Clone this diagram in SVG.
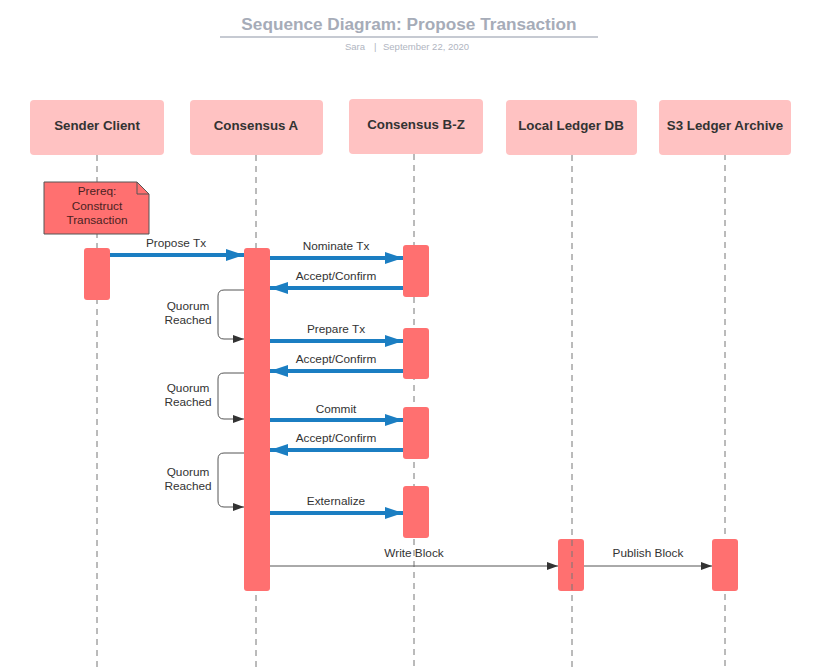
<svg xmlns="http://www.w3.org/2000/svg" width="817" height="670" viewBox="0 0 817 670">
<style>
text{font-family:"Liberation Sans",Arial,sans-serif}
.hdr{fill:#ffc2c2}
.hdrt{font-size:13.3px;font-weight:bold;fill:#333;text-anchor:middle}
.life{stroke:#777;stroke-width:1;stroke-dasharray:6,5;fill:none}
.bar{fill:#ff7070}
.blue{stroke:#1b7ec2;stroke-width:4;fill:none}
.lbl{font-size:11.8px;fill:#333;text-anchor:middle}
.sub{font-size:9.5px;fill:#b0b5bf}
.loop{stroke:#555;stroke-width:1;fill:none}
.thin{stroke:#555;stroke-width:1;fill:none}
</style>
<defs>
<marker id="bh" markerWidth="18" markerHeight="12" refX="18" refY="6" orient="auto" markerUnits="userSpaceOnUse">
<path d="M0,0 L18,6 L0,12 Z" fill="#1b7ec2"/>
</marker>
<marker id="kh" markerWidth="11" markerHeight="8" refX="11" refY="4" orient="auto" markerUnits="userSpaceOnUse">
<path d="M0,0 L11,4 L0,8 Z" fill="#333"/>
</marker>
</defs>
<rect width="817" height="670" fill="#fff"/>
<g id="title">
<text x="409" y="30" style="font-size:17.2px;font-weight:bold;fill:#a6acb8;text-anchor:middle">Sequence Diagram: Propose Transaction</text>
<line x1="220" y1="37" x2="598" y2="37" stroke="#c6cad2" stroke-width="2"/>
<text class="sub" x="345" y="50">Sara</text>
<text class="sub" x="374" y="50">|</text>
<text class="sub" x="383" y="50">September 22, 2020</text>
</g>
<g id="lifelines">
<line class="life" x1="97" y1="155" x2="97" y2="670"/>
<line class="life" x1="256" y1="155" x2="256" y2="670"/>
<line class="life" x1="414" y1="154" x2="414" y2="670"/>
<line class="life" x1="725" y1="154" x2="725" y2="670"/>
</g>
<g id="sender"><rect class="hdr" x="30" y="100" width="134" height="55" rx="4"/><text class="hdrt" x="97" y="130">Sender Client</text></g>
<g id="consA"><rect class="hdr" x="190" y="100" width="133" height="55" rx="4"/><text class="hdrt" x="256" y="130">Consensus A</text></g>
<g id="consBZ"><rect class="hdr" x="349" y="99" width="134" height="55" rx="4"/><text class="hdrt" x="416" y="129">Consensus B-Z</text></g>
<g id="ledger"><rect class="hdr" x="506" y="100" width="131" height="55" rx="4"/><text class="hdrt" x="571" y="130">Local Ledger DB</text></g>
<g id="s3"><rect class="hdr" x="659" y="100" width="132" height="55" rx="4"/><text class="hdrt" x="725" y="130">S3 Ledger Archive</text></g>
<g id="prereq">
<path d="M44,182 H137 L149,194 V234 H44 Z" fill="#ff7070" stroke="#555" stroke-width="1"/>
<path d="M137,182 V194 H149" fill="none" stroke="#555" stroke-width="1"/>
<text class="lbl" x="97" y="195" style="fill:#4a2222">Prereq:</text>
<text class="lbl" x="97" y="210" style="fill:#4a2222">Construct</text>
<text class="lbl" x="97" y="224" style="fill:#4a2222">Transaction</text>
</g>
<g id="activations">
<rect class="bar" x="84" y="248" width="26" height="52" rx="3"/>
<rect class="bar" x="244" y="248" width="26" height="343" rx="3"/>
<rect class="bar" x="403" y="245" width="26" height="52" rx="3"/>
<rect class="bar" x="403" y="328" width="26" height="51" rx="3"/>
<rect class="bar" x="403" y="407" width="26" height="52" rx="3"/>
<rect class="bar" x="403" y="486" width="26" height="52" rx="3"/>
<rect class="bar" x="558" y="539" width="26" height="52" rx="3"/>
<rect class="bar" x="712" y="539" width="26" height="52" rx="3"/>
<line class="life" x1="572" y1="155" x2="572" y2="670"/>
</g>
<g id="connectors">
<line class="blue" x1="110" y1="255" x2="244" y2="255" marker-end="url(#bh)"/>
<line class="blue" x1="270" y1="258" x2="403" y2="258" marker-end="url(#bh)"/>
<line class="blue" x1="403" y1="288" x2="270" y2="288" marker-end="url(#bh)"/>
<line class="blue" x1="270" y1="341" x2="403" y2="341" marker-end="url(#bh)"/>
<line class="blue" x1="403" y1="371" x2="270" y2="371" marker-end="url(#bh)"/>
<line class="blue" x1="270" y1="420" x2="403" y2="420" marker-end="url(#bh)"/>
<line class="blue" x1="403" y1="450" x2="270" y2="450" marker-end="url(#bh)"/>
<line class="blue" x1="270" y1="513" x2="403" y2="513" marker-end="url(#bh)"/>
<path class="loop" d="M244,290 H224 Q218,290 218,296 V333 Q218,339 224,339 H244" marker-end="url(#kh)"/>
<path class="loop" d="M244,373 H224 Q218,373 218,379 V413 Q218,419 224,419 H244" marker-end="url(#kh)"/>
<path class="loop" d="M244,453 H224 Q218,453 218,459 V501 Q218,507 224,507 H244" marker-end="url(#kh)"/>
<line class="thin" x1="270" y1="566" x2="558" y2="566" marker-end="url(#kh)"/>
<line class="thin" x1="584" y1="566" x2="712" y2="566" marker-end="url(#kh)"/>
<text class="lbl" x="176" y="247">Propose Tx</text>
<text class="lbl" x="336" y="250">Nominate Tx</text>
<text class="lbl" x="336" y="280">Accept/Confirm</text>
<text class="lbl" x="336" y="333">Prepare Tx</text>
<text class="lbl" x="336" y="363">Accept/Confirm</text>
<text class="lbl" x="336" y="413">Commit</text>
<text class="lbl" x="336" y="442">Accept/Confirm</text>
<text class="lbl" x="336" y="505">Externalize</text>
<text class="lbl" x="188" y="310">Quorum</text>
<text class="lbl" x="188" y="324">Reached</text>
<text class="lbl" x="188" y="392">Quorum</text>
<text class="lbl" x="188" y="406">Reached</text>
<text class="lbl" x="188" y="476">Quorum</text>
<text class="lbl" x="188" y="490">Reached</text>
<text class="lbl" x="414" y="557">Write Block</text>
<text class="lbl" x="648" y="557">Publish Block</text>
</g>
</svg>
